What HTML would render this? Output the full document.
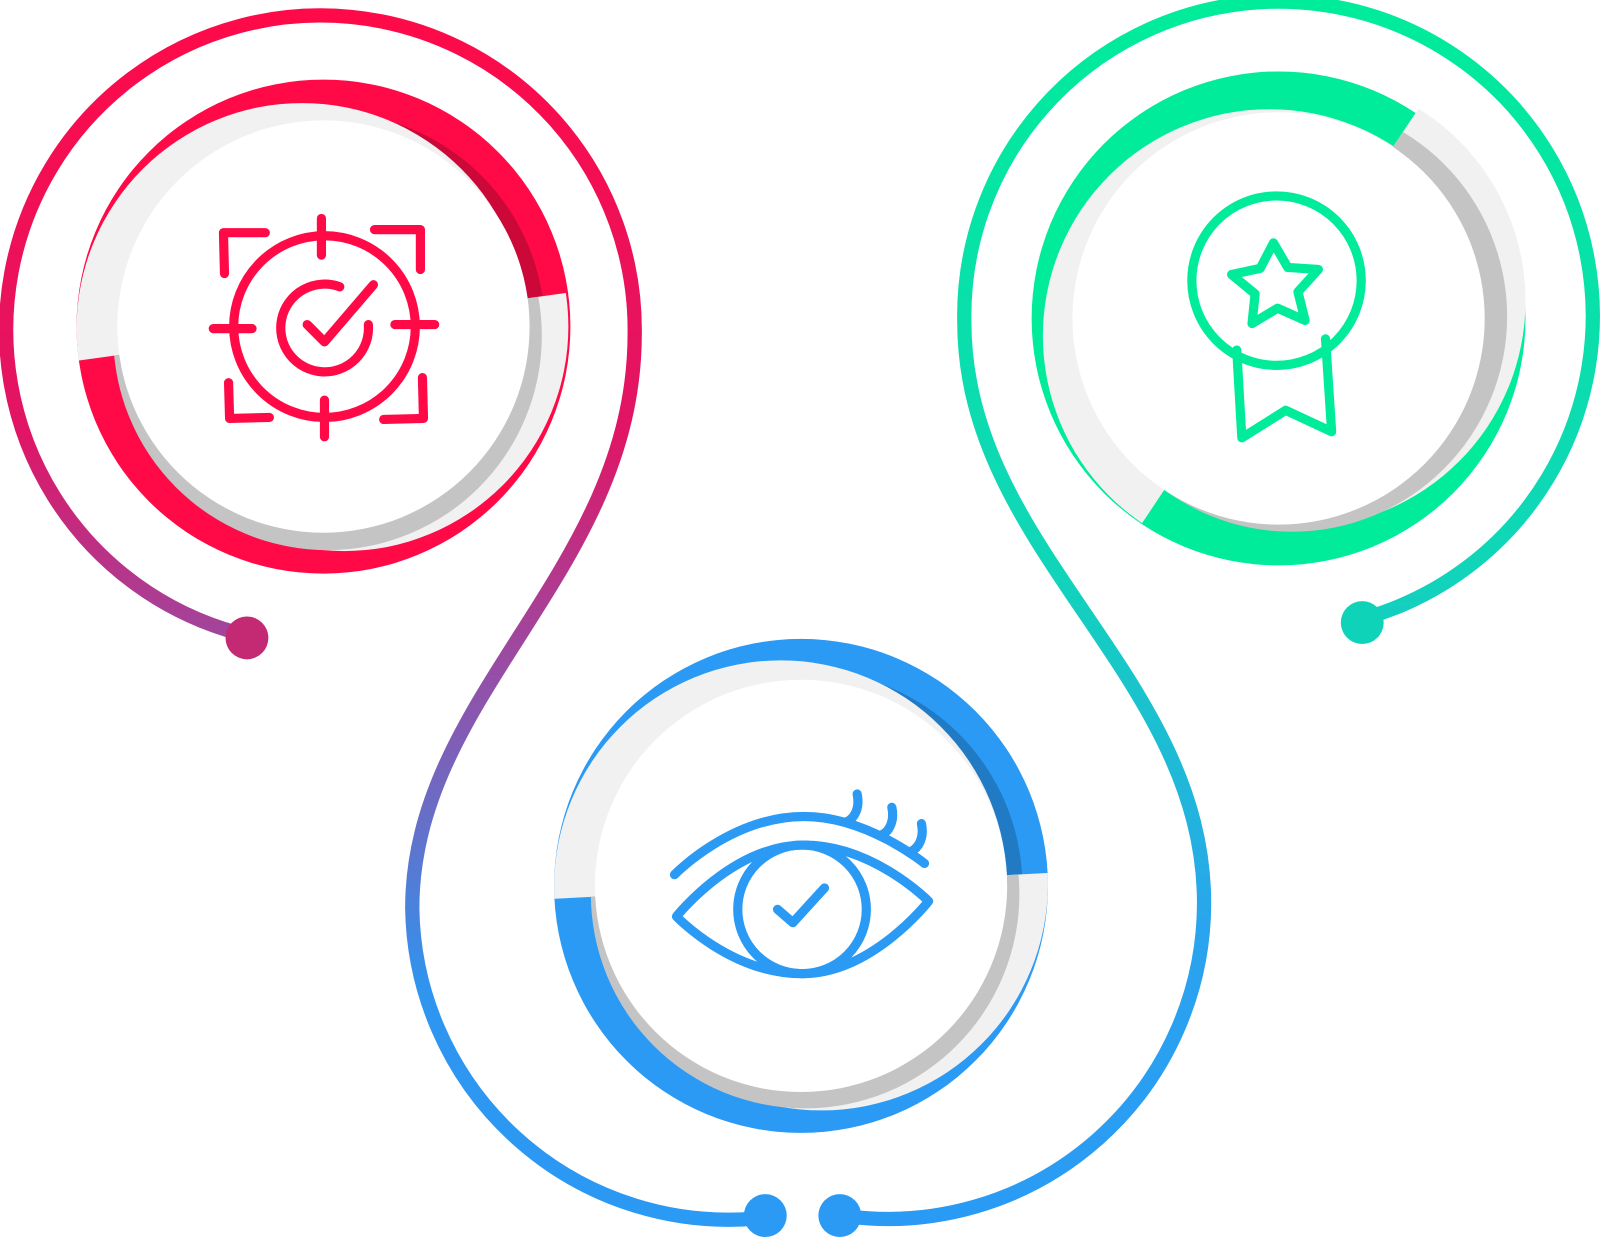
<!DOCTYPE html>
<html><head><meta charset="utf-8"><style>html,body{margin:0;padding:0;background:#fff}svg{display:block}</style></head>
<body>
<svg width="1600" height="1238" viewBox="0 0 1568 1213" preserveAspectRatio="none" xmlns="http://www.w3.org/2000/svg">
<defs>
<linearGradient id="gl" x1="0" y1="0" x2="0" y2="1213" gradientUnits="userSpaceOnUse">
<stop offset="0" stop-color="#ff0a47"/><stop offset="0.35" stop-color="#e01565"/><stop offset="0.55" stop-color="#9350a8"/><stop offset="0.8" stop-color="#2f95ef"/><stop offset="1" stop-color="#2a9af5"/></linearGradient>
<linearGradient id="gr" x1="0" y1="0" x2="0" y2="1213" gradientUnits="userSpaceOnUse">
<stop offset="0" stop-color="#00ec9a"/><stop offset="0.45" stop-color="#10d6b8"/><stop offset="0.75" stop-color="#2aa4ee"/><stop offset="1" stop-color="#2a9af5"/></linearGradient>
<clipPath id="ru"><rect x="-300" y="-300" width="600" height="300" transform="translate(317,320) rotate(-7.9)"/></clipPath>
<clipPath id="rl"><rect x="-300" y="0" width="600" height="300" transform="translate(317,320) rotate(-7.9)"/></clipPath>
<clipPath id="bu"><rect x="-300" y="-300" width="600" height="300" transform="translate(785,868) rotate(-3)"/></clipPath>
<clipPath id="bl"><rect x="-300" y="0" width="600" height="300" transform="translate(785,868) rotate(-3)"/></clipPath>
<clipPath id="gu"><rect x="-300" y="-300" width="600" height="300" transform="translate(1253,312) rotate(-56.3)"/></clipPath>
<clipPath id="gd"><rect x="-300" y="0" width="600" height="300" transform="translate(1253,312) rotate(-56.3)"/></clipPath>
</defs>
<g fill="none" stroke-width="14" stroke-linecap="round">
<path stroke="url(#gl)" d="M232,620 A308,308 0 1 1 622,327 C622,560 404,680 404,890 A310,310 0 0 0 740,1194"/>
<path stroke="url(#gr)" d="M832,1192 A310,310 0 0 0 1180,885 C1180,660 945,540 945,315 A308,308 0 1 1 1340,605"/>
</g>
<circle cx="242" cy="625" r="21" fill="#c42a74"/>
<circle cx="750" cy="1191" r="21" fill="#2a9af5"/>
<circle cx="823" cy="1191" r="21" fill="#2a9af5"/>
<circle cx="1335" cy="610" r="21" fill="#0fd3b9"/>

<!-- red -->
<circle cx="317" cy="320" r="242" fill="#ff0a47"/>
<g clip-path="url(#ru)">
<circle cx="322" cy="322" r="212" fill="#000" fill-opacity="0.2"/>
<circle cx="296" cy="322" r="221" fill="#f1f1f1"/>
</g>
<g clip-path="url(#rl)">
<circle cx="337" cy="320" r="220" fill="#f1f1f1"/>
<circle cx="321" cy="329" r="210" fill="#c4c4c4"/>
</g>
<circle cx="317" cy="320" r="202" fill="#fff"/>
<g fill="none" stroke="#ff0a47" stroke-width="9" stroke-linecap="round" stroke-linejoin="round">
<circle cx="318" cy="320" r="89"/>
<path d="M315,214v36M318,392v36M209,322h38M387,318h39"/>
<path d="M220,268l-1,-40l41,0M367,225l45,0l0,39M224,375l1,35l39,-1M414,370l1,40l-39,1"/>
<path d="M333,281a43,43 0 1 0 28,37M301,318l17,17l48,-56"/>
</g>

<!-- blue -->
<circle cx="785" cy="868" r="242" fill="#2a9af5"/>
<g clip-path="url(#bu)">
<circle cx="790" cy="869" r="212" fill="#000" fill-opacity="0.2"/>
<circle cx="765" cy="869" r="222" fill="#f1f1f1"/>
</g>
<g clip-path="url(#bl)">
<circle cx="805" cy="866" r="222" fill="#f1f1f1"/>
<circle cx="789" cy="876" r="210" fill="#c4c4c4"/>
</g>
<circle cx="785" cy="868" r="202" fill="#fff"/>
<g fill="none" stroke="#2a9af5" stroke-width="9" stroke-linecap="round" stroke-linejoin="round">
<path d="M661,857c0,0 55,-57 127,-57c62,0 118,46 118,46"/>
<path d="M663,898c0,0 55,-70 125,-70c68,0 122,55 122,55c0,0 -55,71 -124,71c-70,0 -123,-56 -123,-56z"/>
<circle cx="786" cy="891" r="63"/>
<path d="M762,891l15,13l31,-34"/>
<path d="M840,778c3,14 -3,24 -10,27M874,791c3,14 -3,24 -10,27M903,807c3,14 -3,24 -10,27"/>
</g>

<!-- green -->
<circle cx="1253" cy="312" r="242" fill="#00ec9a"/>
<g clip-path="url(#gu)">
<circle cx="1244" cy="329" r="222" fill="#f1f1f1"/>
</g>
<g clip-path="url(#gd)">
<circle cx="1273" cy="295" r="222" fill="#f1f1f1"/>
<circle cx="1266" cy="310" r="211" fill="#c4c4c4"/>
</g>
<circle cx="1253" cy="312" r="202" fill="#fff"/>
<g fill="none" stroke="#00ec9a" stroke-width="9" stroke-linecap="round" stroke-linejoin="round">
<circle cx="1251" cy="275" r="83"/>
<path d="M1212,343l5,86l43,-27l45,21l-6,-91"/>
<path d="M1248,238l14,24l30,2l-20,22l7,28l-27,-12l-25,15l3,-29l-23,-19l28,-6z"/>
</g>
</svg>
</body></html>
